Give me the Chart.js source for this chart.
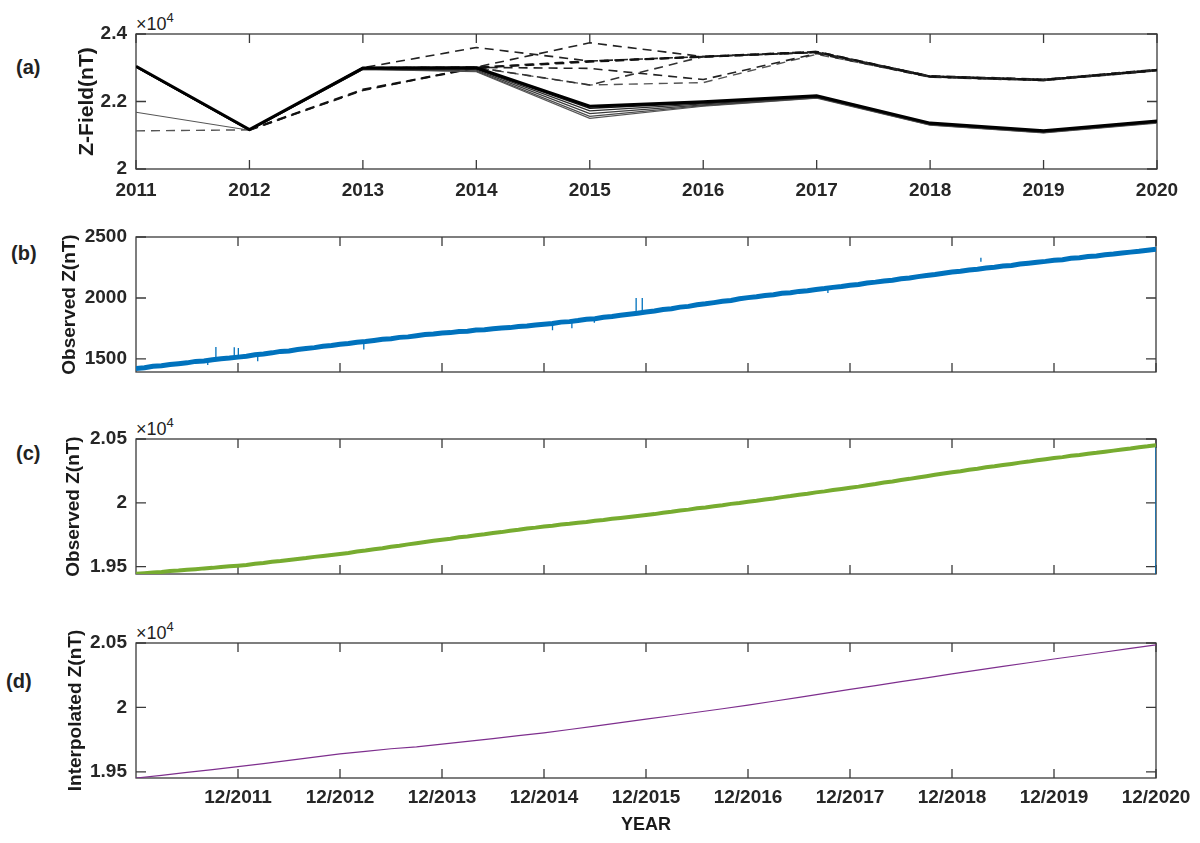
<!DOCTYPE html>
<html>
<head>
<meta charset="utf-8">
<script src="https://cdn.jsdelivr.net/npm/chart.js@4.4.1/dist/chart.umd.min.js"></script>
<style>
  body { margin: 0; background: #fff; width: 1200px; height: 843px; position: relative; overflow: hidden;
         font-family: "Liberation Sans", Arial, sans-serif; color: #222; }
  canvas { position: absolute; left: 0; }
  .tag { position: absolute; font-weight: bold; font-size: 20px; line-height: 20px; }
  .exp { position: absolute; font-size: 18px; line-height: 18px; left: 136px; }
  .exp sup { font-size: 13px; vertical-align: 8px; line-height: 0; }
</style>
</head>
<body>
<div class="tag" style="left:16px;top:57px">(a)</div>
<div class="tag" style="left:11px;top:243px">(b)</div>
<div class="tag" style="left:16px;top:443px">(c)</div>
<div class="tag" style="left:6px;top:671px">(d)</div>
<div class="exp" style="top:15px">&times;10<sup>4</sup></div>
<div class="exp" style="top:420px">&times;10<sup>4</sup></div>
<div class="exp" style="top:624px">&times;10<sup>4</sup></div>

<canvas id="chartA" width="1200" height="215" style="top:0px"></canvas>
<canvas id="chartB" width="1200" height="180" style="top:215px"></canvas>
<canvas id="chartC" width="1200" height="200" style="top:395px"></canvas>
<canvas id="chartD" width="1200" height="248" style="top:595px"></canvas>

<script>
// ---- panel (a): yearly Z-field, several solid and dashed runs (nT)
const aYears = [2011, 2012, 2013, 2014, 2015, 2016, 2017, 2018, 2019, 2020];
const aSolid1 = [23040, 21170, 22990, 23000, 21860, 21990, 22170, 21360, 21130, 21420];
const aSolid2 = [23030, 21160, 22980, 22980, 21800, 21960, 22150, 21340, 21110, 21400];
const aSolid3 = [23020, 21150, 22970, 22960, 21720, 21930, 22130, 21330, 21100, 21390];
const aSolid4 = [23030, 21150, 22960, 22930, 21640, 21900, 22120, 21320, 21090, 21380];
const aSolid5 = [23020, 21140, 22950, 22900, 21560, 21880, 22110, 21310, 21080, 21370];
const aSolid6 = [21680, 21150, 22950, 22880, 21500, 21860, 22100, 21300, 21070, 21360];
const aDash1 = [null, 21160, 22350, 23000, 23180, 23330, 23470, 22740, 22640, 22930];
const aDash2 = [null, 21160, 22330, 23010, 23200, 23320, 23460, 22730, 22630, 22920];
const aDash3 = [null, 21160, 23000, 23600, 23200, 23330, 23450, 22760, 22660, 22950];
const aDash4 = [null, 21160, 23000, 23020, 23740, 23330, 23480, 22750, 22650, 22940];
const aDash5 = [null, 21160, 23000, 23010, 22980, 22650, 23420, 22720, 22620, 22910];
const aDash6 = [null, 21160, 23000, 23010, 22490, 23330, 23460, 22750, 22650, 22940];
const aDash7 = [21130, 21160, 23000, 23000, 22490, 22560, 23400, 22730, 22630, 22920];
const aYTicks = [20000, 22000, 24000];
const aYLabels = ['2', '2.2', '2.4'];

// ---- panels (b)-(d): monthly samples from 12/2010 to 12/2020
const bObserved = [
  1421, 1428, 1440, 1444, 1455, 1461, 1468, 1480, 1483, 1494, 1502, 1507,
  1515, 1522, 1535, 1541, 1550, 1562, 1566, 1578, 1585, 1593, 1604, 1610,
  1620, 1626, 1637, 1643, 1652, 1661, 1665, 1677, 1681, 1690, 1700, 1704,
  1712, 1716, 1725, 1728, 1737, 1740, 1748, 1754, 1757, 1766, 1770, 1778,
  1785, 1790, 1802, 1806, 1815, 1826, 1830, 1842, 1848, 1858, 1866, 1874,
  1885, 1893, 1906, 1912, 1925, 1931, 1944, 1952, 1962, 1973, 1980, 1993,
  2003, 2010, 2020, 2027, 2038, 2043, 2054, 2060, 2070, 2077, 2087, 2094,
  2104, 2111, 2123, 2130, 2140, 2146, 2158, 2164, 2175, 2184, 2192, 2202,
  2213, 2219, 2230, 2236, 2245, 2252, 2262, 2267, 2278, 2285, 2293, 2300,
  2309, 2314, 2325, 2330, 2340, 2345, 2354, 2360, 2368, 2376, 2383, 2392,
  2400
];
const bSpikeTimes = [2011.62, 2011.70, 2011.88, 2011.92, 2012.11, 2013.15, 2015.00, 2015.19, 2015.41, 2015.82, 2015.88, 2017.70, 2019.20];
const bSpikeBase  = [1495, 1500, 1511, 1515, 1530, 1643, 1785, 1800, 1822, 1877, 1882, 2087, 2330];
const bSpikeTip   = [1450, 1598, 1595, 1590, 1482, 1578, 1735, 1752, 1797, 2000, 2000, 2040, 2298];
const bYTicks = [1500, 2000, 2500];
const bYLabels = ['1500', '2000', '2500'];

const cObserved = [
  19444, 19449, 19455, 19459, 19466, 19470, 19476, 19481, 19487, 19491, 19498, 19503,
  19508, 19514, 19524, 19529, 19539, 19545, 19553, 19561, 19568, 19577, 19584, 19592,
  19600, 19608, 19619, 19627, 19637, 19645, 19656, 19664, 19675, 19684, 19693, 19703,
  19712, 19719, 19730, 19737, 19747, 19754, 19764, 19771, 19781, 19789, 19799, 19806,
  19815, 19821, 19830, 19836, 19845, 19851, 19860, 19866, 19875, 19882, 19890, 19897,
  19905, 19912, 19923, 19930, 19940, 19947, 19957, 19964, 19974, 19982, 19992, 19999,
  20008, 20016, 20026, 20034, 20045, 20053, 20063, 20071, 20082, 20090, 20100, 20109,
  20118, 20127, 20138, 20147, 20159, 20168, 20179, 20188, 20199, 20209, 20220, 20230,
  20240, 20248, 20259, 20267, 20278, 20286, 20296, 20305, 20315, 20323, 20333, 20342,
  20351, 20358, 20368, 20375, 20385, 20392, 20401, 20409, 20418, 20426, 20436, 20443,
  20452
];
const cDropTimes = [2020.917, 2020.917];
const cDropValues = [20452, 19000];
const zYTicks = [19500, 20000, 20500];
const zYLabels = ['1.95', '2', '2.05'];

// quarterly samples of the interpolated series
const dInterpolated = [
  19453, 19474, 19496, 19518,
  19541, 19565, 19590, 19615,
  19640, 19660, 19680, 19695,
  19716, 19737, 19759, 19781,
  19803, 19829, 19856, 19882,
  19909, 19936, 19963, 19990,
  20018, 20048, 20078, 20109,
  20140, 20170, 20200, 20230,
  20260, 20289, 20318, 20347,
  20376, 20403, 20430, 20458,
  20485
];

const monthLabels = ['12/2011', '12/2012', '12/2013', '12/2014', '12/2015',
                     '12/2016', '12/2017', '12/2018', '12/2019', '12/2020'];

// ---- helpers
const START = 2010 + 11 / 12;
const END = 2020 + 11 / 12;
const monthTicks = monthLabels.map(l => +l.split('/')[1] + 11 / 12);
const sampled = (vals, perYear) => vals.map((v, i) => ({ x: START + i / perYear, y: v }));
const pairs = (xs, ys) => xs.map((x, i) => ({ x: x, y: ys[i] }));

const FONT = 'Liberation Sans';
const INK = '#262626';
const tickFont = { family: FONT, weight: 'bold', size: 19 };

// MATLAB style box with inward ticks, built from the scales
const boxTicks = {
  id: 'boxTicks',
  beforeDatasetsDraw(chart) {
    const { ctx, chartArea: a, scales: { x, y } } = chart;
    ctx.save();
    ctx.strokeStyle = '#3a3a3a';
    ctx.lineWidth = 1.3;
    ctx.strokeRect(a.left, a.top, a.right - a.left, a.bottom - a.top);
    ctx.beginPath();
    x.ticks.forEach(t => {
      const px = x.getPixelForValue(t.value);
      ctx.moveTo(px, a.top); ctx.lineTo(px, a.top + 9);
      ctx.moveTo(px, a.bottom); ctx.lineTo(px, a.bottom - 9);
    });
    y.ticks.forEach(t => {
      const py = y.getPixelForValue(t.value);
      ctx.moveTo(a.left, py); ctx.lineTo(a.left + 10, py);
      ctx.moveTo(a.right, py); ctx.lineTo(a.right - 10, py);
    });
    ctx.stroke();
    ctx.restore();
  }
};

function yAxis(min, max, ticks, labels, title, titleSize, titleCenter) {
  return {
    type: 'linear', min: min, max: max,
    afterFit: s => { s.width = 136; },
    afterBuildTicks: s => { s.ticks = ticks.map(v => ({ value: v })); },
    grid: { display: false, drawTicks: false },
    border: { display: false },
    ticks: { font: tickFont, color: INK, padding: 9, autoSkip: false,
             callback: (v, i) => labels[i] },
    title: { display: true, text: title, color: '#1a1a1a',
             font: { family: FONT, weight: 'bold', size: titleSize },
             padding: { top: titleCenter - titleSize * 0.6, bottom: 0 } }
  };
}

function xAxis(min, max, ticks, labels, showLabels, height, pad, title) {
  return {
    type: 'linear', min: min, max: max,
    afterFit: s => { s.height = height; },
    afterBuildTicks: s => { s.ticks = ticks.map(v => ({ value: v })); },
    grid: { display: false, drawTicks: false },
    border: { display: false },
    ticks: { display: showLabels, font: tickFont, color: INK, padding: pad,
             maxRotation: 0, autoSkip: false, callback: (v, i) => labels[i] },
    title: title
      ? { display: true, text: title, color: '#1a1a1a',
          font: { family: FONT, weight: 'bold', size: 18 }, padding: { top: 0, bottom: 7 } }
      : { display: false }
  };
}

function panel(id, datasets, padTop, padRight, xScale, yScale) {
  return new Chart(document.getElementById(id), {
    type: 'line',
    data: { datasets: datasets },
    options: {
      responsive: false,
      animation: false,
      devicePixelRatio: 1,
      layout: { padding: { top: padTop, right: padRight, bottom: 0, left: 0 } },
      elements: { point: { radius: 0 }, line: { tension: 0 } },
      plugins: { legend: { display: false }, tooltip: { enabled: false } },
      scales: { x: xScale, y: yScale }
    },
    plugins: [boxTicks]
  });
}

// ---- (a)
const solid = (vals, color, w) => ({ data: pairs(aYears, vals), borderColor: color, borderWidth: w });
const dashed = (vals, color, w, off) => ({ data: pairs(aYears, vals), borderColor: color, borderWidth: w,
                                           borderDash: [9, 6], borderDashOffset: off });
panel('chartA', [
  solid(aSolid1, '#000000', 3),
  solid(aSolid2, '#111111', 1.6),
  solid(aSolid3, '#2a2a2a', 1.3),
  solid(aSolid4, '#3a3a3a', 1.3),
  solid(aSolid5, '#4a4a4a', 1.2),
  solid(aSolid6, '#555555', 1.1),
  dashed(aDash1, '#111111', 2.2, 0),
  dashed(aDash2, '#222222', 1.8, 1),
  dashed(aDash3, '#222222', 1.6, 2),
  dashed(aDash4, '#222222', 1.6, 8),
  dashed(aDash5, '#222222', 1.6, 0),
  dashed(aDash6, '#333333', 1.6, 11),
  dashed(aDash7, '#555555', 1.4, 0)
], 34, 43,
  xAxis(2011, 2020, aYears, aYears.map(String), true, 46, 10),
  yAxis(20000, 24000, aYTicks, aYLabels, 'Z-Field(nT)', 21, 87));

// ---- (b)
const spikeData = bSpikeTimes.flatMap((t, i) => [
  { x: t, y: bSpikeBase[i] }, { x: t, y: bSpikeTip[i] }, { x: t, y: null }
]);
panel('chartB', [
  { data: sampled(bObserved, 12), borderColor: '#0072BD', borderWidth: 5 },
  { data: spikeData, borderColor: '#0072BD', borderWidth: 1.3, spanGaps: false }
], 22, 44,
  xAxis(START, END, monthTicks, monthLabels, false, 23, 9),
  yAxis(1393, 2500, bYTicks, bYLabels, 'Observed Z(nT)', 19, 70));

// ---- (c)
panel('chartC', [
  { data: sampled(cObserved, 12), borderColor: '#77AC30', borderWidth: 4 },
  { data: pairs(cDropTimes, cDropValues), borderColor: '#0072BD', borderWidth: 1.5 }
], 44, 44,
  xAxis(START, END, monthTicks, monthLabels, false, 21, 9),
  yAxis(19443, 20500, zYTicks, zYLabels, 'Observed Z(nT)', 19, 74));

// ---- (d)
panel('chartD', [
  { data: sampled(dInterpolated, 4), borderColor: '#7E2F8E', borderWidth: 1.2 }
], 48, 44,
  xAxis(START, END, monthTicks, monthLabels, true, 65, 8, 'YEAR'),
  yAxis(19453, 20500, zYTicks, zYLabels, 'Interpolated Z(nT)', 19, 76));
</script>
</body>
</html>
